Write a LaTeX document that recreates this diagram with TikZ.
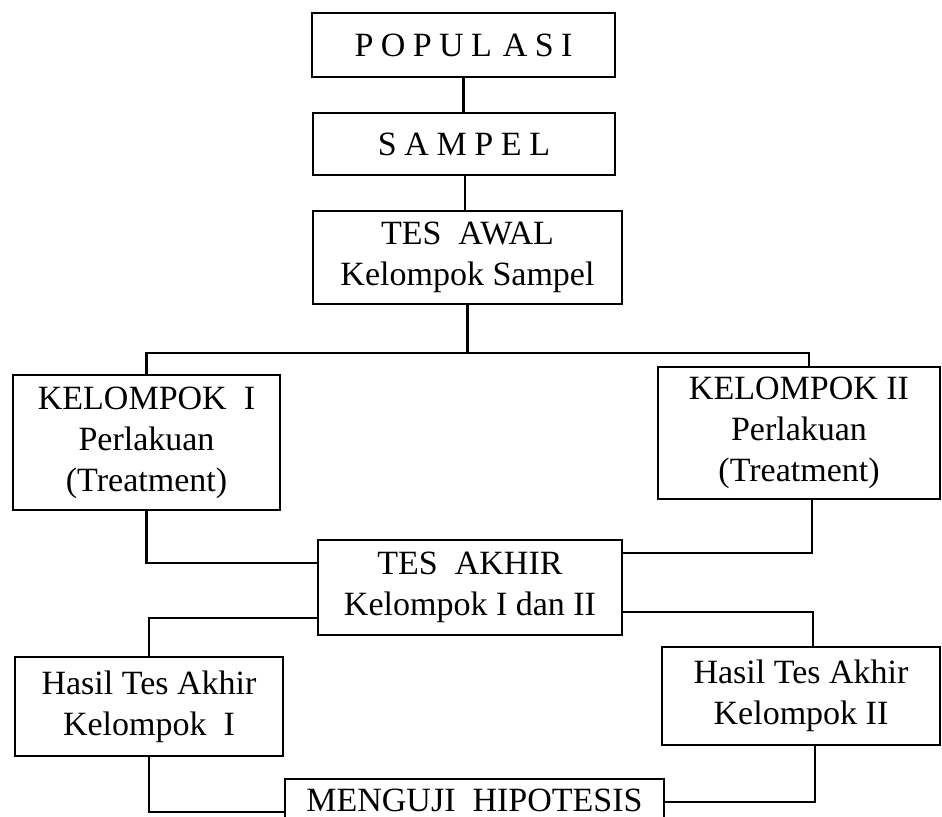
\documentclass[tikz,border=0pt]{standalone}
\usepackage{fontspec}
\setmainfont{Liberation Serif}
\usetikzlibrary{calc}
\tikzset{
  box/.style={draw, line width=1.3pt, inner sep=0pt, align=center, font=\fontsize{17}{20.5}\selectfont},
  link/.style={line width=1.3pt},
}
\begin{document}
\begin{tikzpicture}[x=0.5pt,y=-0.5pt]
\useasboundingbox (0,0) rectangle (942,816);
\clip (0,0) rectangle (942,816);

\node[box, minimum width=151.5pt, minimum height=32pt] (pop) at (463.5,45)
  {P\kern3.7pt O\kern3.7pt P\kern3.7pt U\kern3.7pt L\kern5.5pt A\kern3.7pt S\kern3.7pt I};
\node[box, minimum width=151pt, minimum height=31pt] (samp) at (464,144)
  {S\kern3.8pt A\kern3.8pt M\kern3.8pt P\kern3.8pt E\kern3.8pt L};
\node[box, minimum width=154.5pt, minimum height=46.5pt] (awal) at (467.5,257.5)
  {TES\ \ AWAL\\Kelompok Sampel};
\node[box, minimum width=133.5pt, minimum height=67.5pt] (k1) at (146.5,442.5)
  {KELOMPOK\ \ I\\Perlakuan\\(Treatment)};
\node[box, minimum width=141pt, minimum height=66pt] (k2) at (799,433)
  {KELOMPOK II\\Perlakuan\\(Treatment)};
\node[box, minimum width=152pt, minimum height=47.5pt] (akhir) at (470,587.5)
  {TES\ \ AKHIR\\Kelompok I dan II};
\node[box, minimum width=134pt, minimum height=49.5pt] (h1) at (149,706.5)
  {Hasil Tes Akhir\\Kelompok\ \ I};
\node[box, minimum width=139pt, minimum height=49pt] (h2) at (801,696)
  {Hasil Tes Akhir\\Kelompok II};
\node[box, minimum width=189.5pt, minimum height=21.5pt] (uji) at (474.5,800.5)
  {MENGUJI\ \ HIPOTESIS};

\coordinate (split) at ($(awal.south)+(0,47.5)$);

\draw[link] (pop.south) -- (pop.south |- samp.north);
\draw[link] ($(samp.south)+(1,0)$) -- ($(samp.south |- awal.north)+(1,0)$);
\draw[link] (awal.south) -- (split);
\draw[link] (split) -| (k1.north);
\draw[link] (split) -| ($(k2.north)+(10,0)$);
\draw[link] (k1.south) |- ($(akhir.west)+(0,-24.5)$);
\draw[link] ($(k2.south)+(13,0)$) |- ($(akhir.east)+(0,-34.5)$);
\draw[link] ($(akhir.west)+(0,30.5)$) -| (h1.north);
\draw[link] ($(akhir.east)+(0,24.5)$) -| ($(h2.north)+(12,0)$);
\draw[link] (h1.south) |- ($(uji.west)+(0,11.5)$);
\draw[link] ($(h2.south)+(14,0)$) |- ($(uji.east)+(0,1.5)$);
\end{tikzpicture}
\end{document}
